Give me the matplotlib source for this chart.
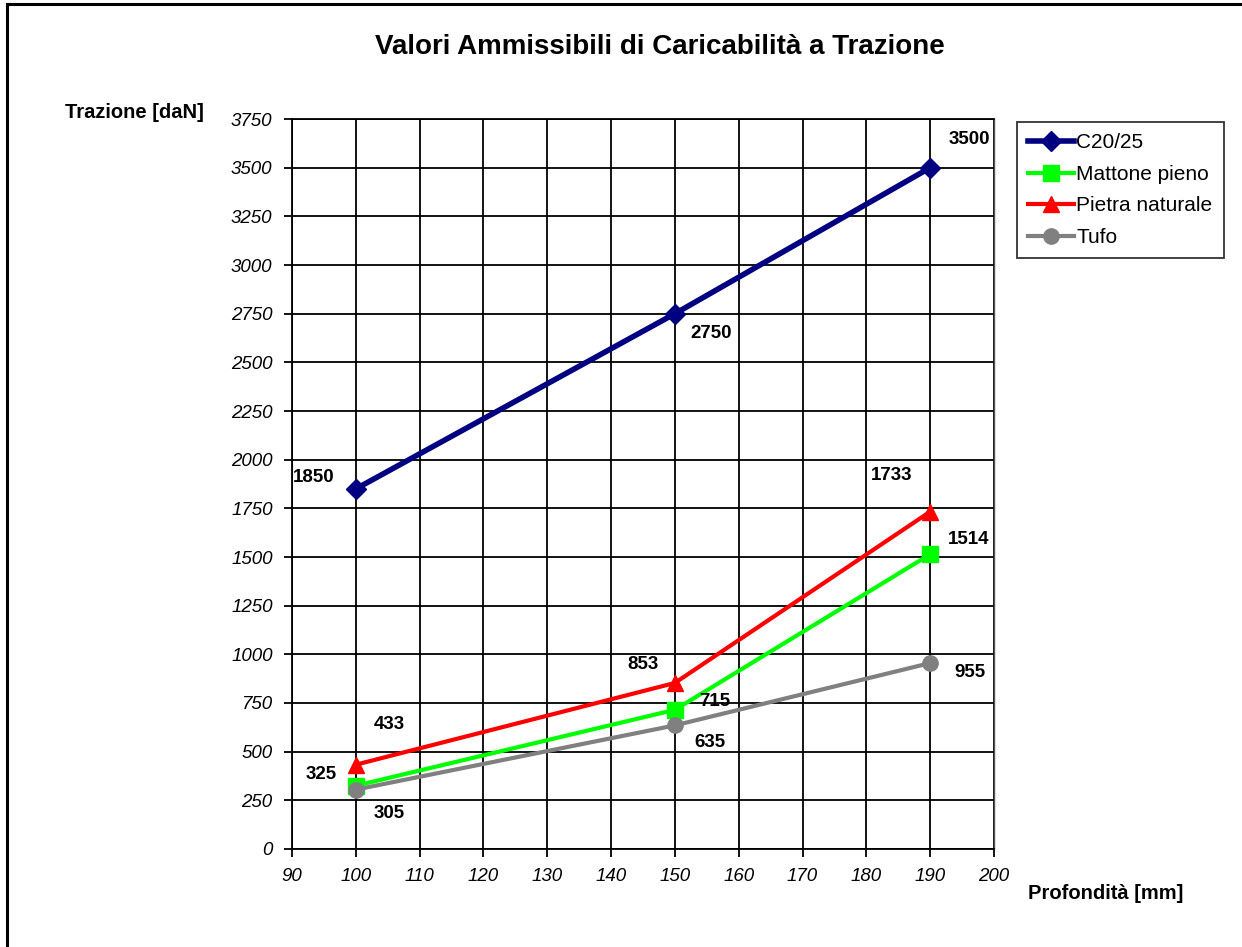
import matplotlib
matplotlib.use("Agg")
import matplotlib.pyplot as plt
from matplotlib.lines import Line2D

# data
profondita = [100, 150, 190]
c20_25 = [1850, 2750, 3500]
mattone = [325, 715, 1514]
pietra = [433, 853, 1733]
tufo = [305, 635, 955]

series_names = ["C20/25", "Mattone pieno", "Pietra naturale", "Tufo"]
x_ticks = list(range(90, 201, 10))
y_ticks = list(range(0, 3751, 250))

# label offsets in points (dx, dy) for each point
offsets = {
    "C20/25": [(-30, 8), (26, -14), (28, 20)],
    "Mattone pieno": [(-25, 8), (29, 6), (28, 11)],
    "Pietra naturale": [(24, 29), (-23, 13), (-28, 26)],
    "Tufo": [(24, -17), (25, -12), (29, -7)],
}

plt.rcParams['font.family'] = ['Liberation Sans', 'DejaVu Sans']

fig = plt.figure(figsize=(12.42, 9.47), dpi=100)
ax = fig.add_axes([0.2351, 0.1035, 0.5652, 0.7708])

styles = [
    (c20_25, "#000080", "D", 4.0, 10),
    (mattone, "#00ff00", "s", 3.0, 11),
    (pietra, "#ff0000", "^", 3.0, 12),
    (tufo, "#808080", "o", 3.0, 11),
]

handles = []
for name, (vals, col, mk, lw, ms) in zip(series_names, styles):
    ax.plot(profondita, vals, color=col, lw=lw, marker=mk, ms=ms, zorder=3)
    handles.append(Line2D([], [], color=col, lw=lw, marker=mk, ms=ms))
    for xv, yv, (dx, dy) in zip(profondita, vals, offsets[name]):
        ax.annotate(str(yv), xy=(xv, yv), xytext=(dx, dy), textcoords='offset points',
                    ha='center', va='center', fontsize=13.5, fontweight='bold', zorder=4)

ax.set_xlim(90, 200)
ax.set_ylim(0, 3750)
ax.set_xticks(x_ticks)
ax.set_yticks(y_ticks)
ax.grid(True, color='black', lw=1.3)
ax.set_axisbelow(True)
for s in ax.spines.values():
    s.set_color('black')
    s.set_linewidth(1.3)
ax.spines['right'].set_color('#555555')
ax.spines['right'].set_linewidth(1.0)
ax.tick_params(direction='out', length=6, width=1.3, labelsize=13.5, pad=8)
for lab in ax.get_xticklabels() + ax.get_yticklabels():
    lab.set_fontstyle('italic')

fig.text(0.531, 0.950, "Valori Ammissibili di Caricabilità a Trazione",
         ha='center', va='center', fontsize=20, fontweight='bold')
fig.text(0.0523, 0.881, "Trazione [daN]", ha='left', va='center',
         fontsize=14.5, fontweight='bold')
fig.text(0.8277, 0.057, "Profondità [mm]", ha='left', va='center',
         fontsize=14.5, fontweight='bold')

leg = fig.legend(handles, series_names, loc='upper left',
                 bbox_to_anchor=(1017 / 1242, 1 - 122 / 947),
                 fontsize=15, frameon=True, fancybox=False, handlelength=2.2,
                 handletextpad=0.1, borderpad=0.55, labelspacing=0.6,
                 borderaxespad=0)
leg.get_frame().set_edgecolor('black')
leg.get_frame().set_linewidth(1.3)

# outer frame (left and top edges)
fig.add_artist(Line2D([7 / 1242, 7 / 1242], [0, 1 - 4 / 947], color='black', lw=2.2))
fig.add_artist(Line2D([7 / 1242, 1], [1 - 4 / 947, 1 - 4 / 947], color='black', lw=2.2))

fig.savefig("out.png", dpi=100)
